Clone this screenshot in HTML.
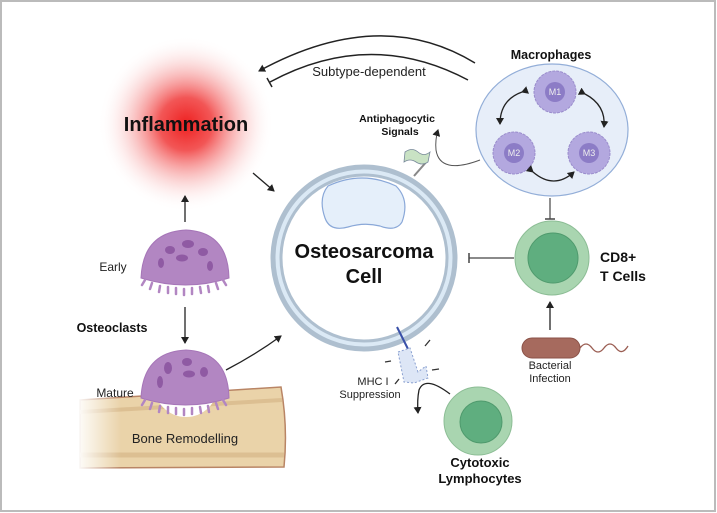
<!DOCTYPE html>
<html><head><meta charset="utf-8"><style>
html,body{margin:0;padding:0;background:#fff;}
svg{display:block;font-family:"Liberation Sans",sans-serif;}
.b{font-weight:bold;}
</style></head><body>
<svg width="717" height="513" viewBox="0 0 717 513" xmlns="http://www.w3.org/2000/svg">
<defs>
<radialGradient id="inf" cx="0.5" cy="0.5" r="0.5">
<stop offset="0" stop-color="#ee2020" stop-opacity="1"/>
<stop offset="0.3" stop-color="#f03838" stop-opacity="0.85"/>
<stop offset="0.65" stop-color="#f6a0a0" stop-opacity="0.45"/>
<stop offset="1" stop-color="#ffffff" stop-opacity="0"/>
</radialGradient>
<linearGradient id="bonefade" x1="0" x2="1" y1="0" y2="0">
<stop offset="0" stop-color="#fff" stop-opacity="1"/>
<stop offset="1" stop-color="#fff" stop-opacity="0"/>
</linearGradient>
<marker id="ar" markerWidth="8" markerHeight="8" refX="6" refY="4" orient="auto" markerUnits="userSpaceOnUse">
<path d="M0,0 L7,4 L0,8 z" fill="#222"/></marker>
</defs>
<rect x="1" y="1" width="714" height="510" fill="#fff" stroke="#bbb" stroke-width="2"/>

<!-- inflammation -->
<circle cx="186" cy="124" r="88" fill="url(#inf)"/>
<text x="186" y="131" text-anchor="middle" class="b" font-size="20" fill="#111">Inflammation</text>

<!-- top arcs -->
<path d="M475,63 Q380,5 259,71" fill="none" stroke="#222" stroke-width="1.5" marker-end="url(#ar)"/>
<path d="M468,80 Q370,28 270,82" fill="none" stroke="#222" stroke-width="1.5"/>
<line x1="267" y1="78" x2="272" y2="87" stroke="#222" stroke-width="1.5"/>
<text x="369" y="76" text-anchor="middle" font-size="13" fill="#222">Subtype-dependent</text>

<!-- arrows -->
<line x1="253" y1="173" x2="274" y2="191" stroke="#222" stroke-width="1.3" marker-end="url(#ar)"/>
<line x1="185" y1="222" x2="185" y2="196" stroke="#222" stroke-width="1.3" marker-end="url(#ar)"/>
<line x1="185" y1="307" x2="185" y2="343" stroke="#222" stroke-width="1.3" marker-end="url(#ar)"/>
<path d="M226,370 Q255,355 281,336" fill="none" stroke="#222" stroke-width="1.3" marker-end="url(#ar)"/>

<!-- osteosarcoma cell -->
<circle cx="364" cy="258" r="91" fill="#dbe9f5" stroke="#aebfcf" stroke-width="5"/>
<circle cx="364" cy="258" r="83" fill="#fff" stroke="#aebfcf" stroke-width="3"/>
<path d="M328,186 Q362,170 396,186 Q410,200 402,222 Q396,232 380,226 Q364,222 348,227 Q330,232 325,218 Q318,198 328,186 z" fill="#e5effa" stroke="#8aa8d8" stroke-width="1.2"/>
<text x="364" y="258" text-anchor="middle" class="b" font-size="20" fill="#111">Osteosarcoma</text>
<text x="364" y="283" text-anchor="middle" class="b" font-size="20" fill="#111">Cell</text>

<!-- flag -->
<line x1="414" y1="176" x2="428" y2="160" stroke="#888" stroke-width="2"/>
<path d="M405,152 Q412,147 418,152 Q424,157 430,152 L428,162 Q422,166 416,162 Q410,158 404,162 z" fill="#c9e2c4" stroke="#789" stroke-width="0.8"/>
<text x="397" y="122" text-anchor="middle" class="b" font-size="10.5" fill="#111">Antiphagocytic</text>
<text x="400" y="135" text-anchor="middle" class="b" font-size="10.5" fill="#111">Signals</text>
<path d="M480,160 Q440,175 436,150 Q435,140 438,130" fill="none" stroke="#555" stroke-width="1" marker-end="url(#ar)"/>

<!-- macrophages -->
<text x="551" y="59" text-anchor="middle" class="b" font-size="12.5" fill="#111">Macrophages</text>
<ellipse cx="552" cy="130" rx="76" ry="66" fill="#e7eef9" stroke="#93aed8" stroke-width="1.2"/>
<g fill="#b3a8df" stroke="#9a8ccc" stroke-width="1" stroke-dasharray="3,1">
<circle cx="555" cy="92" r="21"/><circle cx="514" cy="153" r="21"/><circle cx="589" cy="153" r="21"/>
</g>
<g fill="#8c7cc6"><circle cx="555" cy="92" r="10"/><circle cx="514" cy="153" r="10"/><circle cx="589" cy="153" r="10"/></g>
<g fill="#eee" font-size="9" text-anchor="middle"><text x="555" y="95">M1</text><text x="514" y="156">M2</text><text x="589" y="156">M3</text></g>
<g fill="none" stroke="#222" stroke-width="1.3">
<path d="M522,92 Q500,100 500,124" marker-end="url(#ar)" marker-start="url(#ar)"/>
<path d="M585,94 Q606,105 604,127" marker-end="url(#ar)" marker-start="url(#ar)"/>
<path d="M533,172 Q554,190 574,172" marker-end="url(#ar)" marker-start="url(#ar)"/>
</g>
<line x1="550" y1="198" x2="550" y2="219" stroke="#444" stroke-width="1.2"/>
<line x1="545" y1="219" x2="555" y2="219" stroke="#444" stroke-width="1.5"/>

<!-- CD8 -->
<circle cx="552" cy="258" r="37" fill="#a9d5b0" stroke="#8cbd95" stroke-width="1"/>
<circle cx="553" cy="258" r="25" fill="#5fae7f" stroke="#4f9a6d" stroke-width="1"/>
<text x="600" y="262" class="b" font-size="14" fill="#111">CD8+</text>
<text x="600" y="281" class="b" font-size="14" fill="#111">T Cells</text>
<line x1="514" y1="258" x2="469" y2="258" stroke="#444" stroke-width="1.2"/>
<line x1="469" y1="253" x2="469" y2="263" stroke="#444" stroke-width="1.5"/>

<!-- bacteria -->
<line x1="550" y1="330" x2="550" y2="302" stroke="#222" stroke-width="1.3" marker-end="url(#ar)"/>
<rect x="522" y="338" width="58" height="20" rx="10" fill="#a66a5e" stroke="#8b5248"/>
<path d="M580,348 q6,-8 12,0 t12,0 t12,0 t12,-2" fill="none" stroke="#9a5d52" stroke-width="1.3"/>
<text x="550" y="369" text-anchor="middle" font-size="11" fill="#222">Bacterial</text>
<text x="550" y="382" text-anchor="middle" font-size="11" fill="#222">Infection</text>

<!-- MHC -->
<line x1="397" y1="327" x2="408" y2="349" stroke="#3950a8" stroke-width="2"/>
<path d="M398,352 L410,348 L418,372 L426,366 L428,378 L414,383 L404,382 z" fill="#dde6f6" stroke="#8aa0d0" stroke-dasharray="2,2"/>
<g stroke="#333" stroke-width="1.3">
<line x1="425" y1="346" x2="430" y2="340"/><line x1="385" y1="362" x2="391" y2="361"/><line x1="432" y1="370" x2="439" y2="369"/><line x1="395" y1="384" x2="399" y2="379"/>
</g>
<text x="373" y="385" text-anchor="middle" font-size="11" fill="#222">MHC I</text>
<text x="370" y="398" text-anchor="middle" font-size="11" fill="#222">Suppression</text>
<path d="M450,394 Q425,375 419,390 Q417,400 418,413" fill="none" stroke="#222" stroke-width="1.3" marker-end="url(#ar)"/>

<!-- cytotoxic -->
<circle cx="478" cy="421" r="34" fill="#a9d5b0" stroke="#8cbd95"/>
<circle cx="481" cy="422" r="21" fill="#5fae7f" stroke="#4f9a6d"/>
<text x="480" y="467" text-anchor="middle" class="b" font-size="13" fill="#111">Cytotoxic</text>
<text x="480" y="483" text-anchor="middle" class="b" font-size="13" fill="#111">Lymphocytes</text>

<!-- bone -->
<path d="M80,400 L281,387 Q288,427 284,467 L80,468 z" fill="#ead3a9" stroke="#b98565" stroke-width="1.5"/>
<path d="M80,412 L282,400" stroke="#dcbf92" stroke-width="4"/>
<path d="M80,455 L284,455" stroke="#dcbf92" stroke-width="5"/>
<rect x="76" y="383" width="45" height="90" fill="url(#bonefade)"/>
<circle cx="186" cy="385" r="32" fill="#fff"/>
<text x="185" y="443" text-anchor="middle" font-size="13" fill="#222">Bone Remodelling</text>

<!-- osteoclasts -->
<g fill="#b286c2" stroke="#a676b8" stroke-width="1">
<path d="M141,278 Q143,232 186,230 Q228,232 229,278 Q186,292 141,278 z"/>
<path d="M141,398 Q143,352 186,350 Q228,352 229,398 Q186,412 141,398 z"/>
</g>
<g stroke="#b286c2" stroke-width="2.5" stroke-linecap="round">
<path d="M145,280 l-3,5 M152,283 l-2,6 M160,286 l-1,6 M168,287 l0,6 M176,288 l0,6 M184,289 l0,6 M192,288 l0,6 M200,287 l1,6 M208,286 l1,6 M216,283 l2,6 M223,280 l3,5"/>
<path d="M145,400 l-3,5 M152,403 l-2,6 M160,406 l-1,6 M168,407 l0,6 M176,408 l0,6 M184,409 l0,6 M192,408 l0,6 M200,407 l1,6 M208,406 l1,6 M216,403 l2,6 M223,400 l3,5"/>
</g>
<g fill="#8f5aa3">
<ellipse cx="170" cy="250" rx="5" ry="4"/><ellipse cx="188" cy="244" rx="6" ry="4"/><ellipse cx="203" cy="252" rx="5" ry="4"/><ellipse cx="182" cy="258" rx="6" ry="3.5"/><ellipse cx="161" cy="263" rx="3" ry="5"/><ellipse cx="210" cy="266" rx="3" ry="5"/>
<ellipse cx="168" cy="368" rx="4" ry="6"/><ellipse cx="187" cy="362" rx="5" ry="4"/><ellipse cx="189" cy="374" rx="6" ry="3.5"/><ellipse cx="204" cy="372" rx="4" ry="5"/><ellipse cx="160" cy="382" rx="3" ry="6"/>
</g>
<text x="113" y="271" text-anchor="middle" font-size="12" fill="#222">Early</text>
<text x="112" y="332" text-anchor="middle" class="b" font-size="12.5" fill="#111">Osteoclasts</text>
<text x="115" y="397" text-anchor="middle" font-size="12" fill="#222">Mature</text>
</svg>
</body></html>
